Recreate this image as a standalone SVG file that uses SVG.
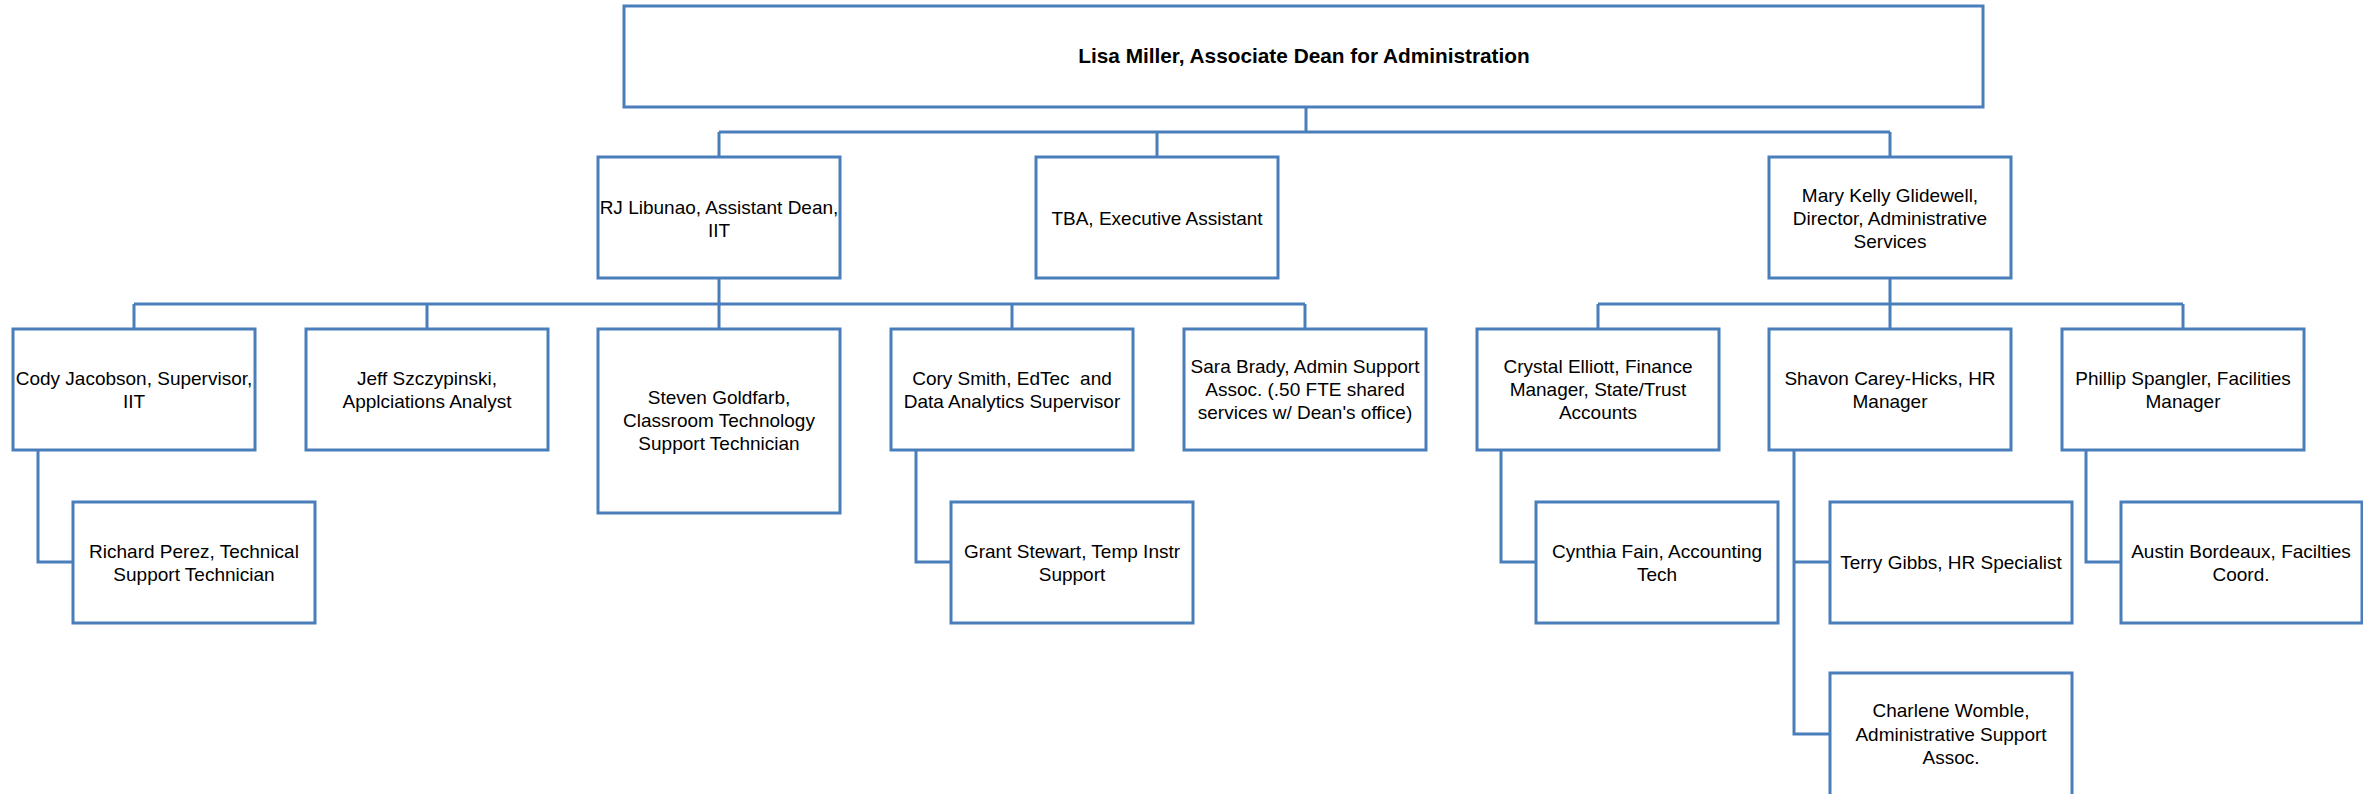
<svg xmlns="http://www.w3.org/2000/svg" width="2363" height="794" viewBox="0 0 2363 794">
<style>
.box{fill:#ffffff;stroke:#4a7ebb;stroke-width:3}
.ln{fill:none;stroke:#4a7ebb;stroke-width:3}
text{font-family:"Liberation Sans",Arial,sans-serif;font-size:19px;fill:#000;text-anchor:middle;white-space:pre}
.title{font-weight:bold;font-size:20.8px}
</style>
<rect width="2363" height="794" fill="#ffffff"/>
<g id="connectors">
<path class="ln" d="M1306,107V132M719,132H1890M719,132V157M1157,132V157M1890,132V157"/>
<path class="ln" d="M719,278V304M134,304H1305M134,304V329M427,304V329M719,304V329M1012,304V329M1305,304V329"/>
<path class="ln" d="M1890,278V304M1598,304H2183M1598,304V329M1890,304V329M2183,304V329"/>
<path class="ln" d="M38,450V562H73M916,450V562H951M1501,450V562H1536M1794,450V734H1830M1794,562H1830M2086,450V562H2121"/>
</g>
<g id="n-lisa"><rect class="box" x="624" y="6" width="1359" height="101"/><text class="title" x="1304" y="63">Lisa Miller, Associate Dean for Administration</text></g>
<g id="n-rj"><rect class="box" x="598" y="157" width="242" height="121"/><text x="719" y="214">RJ Libunao, Assistant Dean,</text><text x="719" y="237">IIT</text></g>
<g id="n-tba"><rect class="box" x="1036" y="157" width="242" height="121"/><text x="1157" y="225">TBA, Executive Assistant</text></g>
<g id="n-mary"><rect class="box" x="1769" y="157" width="242" height="121"/><text x="1890" y="202">Mary Kelly Glidewell,</text><text x="1890" y="225">Director, Administrative</text><text x="1890" y="248">Services</text></g>
<g id="n-cody"><rect class="box" x="13" y="329" width="242" height="121"/><text x="134" y="385">Cody Jacobson, Supervisor,</text><text x="134" y="408">IIT</text></g>
<g id="n-jeff"><rect class="box" x="306" y="329" width="242" height="121"/><text x="427" y="385">Jeff Szczypinski,</text><text x="427" y="408">Applciations Analyst</text></g>
<g id="n-steven"><rect class="box" x="598" y="329" width="242" height="184"/><text x="719" y="404">Steven Goldfarb,</text><text x="719" y="427">Classroom Technology</text><text x="719" y="450">Support Technician</text></g>
<g id="n-cory"><rect class="box" x="891" y="329" width="242" height="121"/><text x="1012" y="385">Cory Smith, EdTec  and</text><text x="1012" y="408">Data Analytics Supervisor</text></g>
<g id="n-sara"><rect class="box" x="1184" y="329" width="242" height="121"/><text x="1305" y="373">Sara Brady, Admin Support</text><text x="1305" y="396">Assoc. (.50 FTE shared</text><text x="1305" y="419">services w/ Dean's office)</text></g>
<g id="n-crystal"><rect class="box" x="1477" y="329" width="242" height="121"/><text x="1598" y="373">Crystal Elliott, Finance</text><text x="1598" y="396">Manager, State/Trust</text><text x="1598" y="419">Accounts</text></g>
<g id="n-shavon"><rect class="box" x="1769" y="329" width="242" height="121"/><text x="1890" y="385">Shavon Carey-Hicks, HR</text><text x="1890" y="408">Manager</text></g>
<g id="n-phillip"><rect class="box" x="2062" y="329" width="242" height="121"/><text x="2183" y="385">Phillip Spangler, Facilities</text><text x="2183" y="408">Manager</text></g>
<g id="n-richard"><rect class="box" x="73" y="502" width="242" height="121"/><text x="194" y="558">Richard Perez, Technical</text><text x="194" y="581">Support Technician</text></g>
<g id="n-grant"><rect class="box" x="951" y="502" width="242" height="121"/><text x="1072" y="558">Grant Stewart, Temp Instr</text><text x="1072" y="581">Support</text></g>
<g id="n-cynthia"><rect class="box" x="1536" y="502" width="242" height="121"/><text x="1657" y="558">Cynthia Fain, Accounting</text><text x="1657" y="581">Tech</text></g>
<g id="n-terry"><rect class="box" x="1830" y="502" width="242" height="121"/><text x="1951" y="569">Terry Gibbs, HR Specialist</text></g>
<g id="n-austin"><rect class="box" x="2121" y="502" width="241" height="121"/><text x="2241" y="558">Austin Bordeaux, Facilties</text><text x="2241" y="581">Coord.</text></g>
<g id="n-charlene"><rect class="box" x="1830" y="673" width="242" height="125"/><text x="1951" y="717">Charlene Womble,</text><text x="1951" y="741">Administrative Support</text><text x="1951" y="764">Assoc.</text></g>
</svg>
